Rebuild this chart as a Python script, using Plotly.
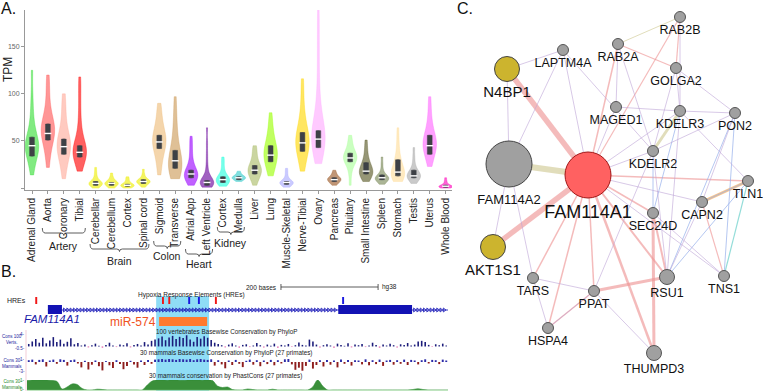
import numpy as np
import plotly.graph_objects as go

W, H = 763, 391
FONT = "Liberation Sans, Arial, Helvetica, sans-serif"


def px(x):
    return x / W


def py(y):
    return 1 - y / H


# ---------------- Panel A data (GTEx TPM) ----------------
tissues = ["Adrenal Gland", "Aorta", "Coronary", "Tibial", "Cerebellar", "Cerebellum",
           "Cortex", "Spinal cord", "Sigmoid", "Transverse", "Atrial App", "Left Ventricle",
           "Cortex", "Medulla", "Liver", "Lung", "Muscle-Skeletal", "Nerve-Tibial", "Ovary",
           "Pancreas", "Pituitary", "Small Intestine", "Spleen", "Stomach", "Testis",
           "Uterus", "Whole Blood"]
tissue_colors = ["#33DD33", "#FF5555", "#FFAA99", "#FF0000", "#EEEE00", "#EEEE00",
                 "#EEEE00", "#EEEE00", "#EEBB77", "#CC9955", "#9900FF", "#660099",
                 "#22FFDD", "#33CCCC", "#AABB66", "#99FF00", "#AAAAFF", "#FFD700", "#FFAAFF",
                 "#995522", "#AAFF99", "#555522", "#778855", "#FFDD99", "#AAAAAA",
                 "#FF66FF", "#FF00BB"]
box_q1 = [34, 51, 36, 33, 3, 3, 2, 5, 42, 21, 11, 3, 6, 9, 15, 28, 4, 39, 43, 7, 28, 15, 9, 13, 11, 36, 1]
box_median = [45, 58, 44, 38, 5, 5, 3, 7, 49, 29, 15, 6, 9, 11, 19, 35, 6, 48, 52, 9, 32, 18, 11, 17, 13, 45, 2]
box_q3 = [54, 68, 52, 45, 7, 6, 4, 9, 56, 40, 19, 8, 12, 12, 24, 45, 7, 59, 61, 11, 37, 27, 14, 30, 19, 56, 3]

adrenal_gland = [14, 22, 28, 32, 35, 38, 40, 42, 44, 45, 46, 48, 50, 53, 56, 60, 66, 74, 85, 100, 125]
artery_aorta = [22, 32, 40, 46, 50, 53, 56, 58, 60, 62, 64, 66, 68, 71, 75, 80, 88, 98, 110, 120]
artery_coronary = [10, 20, 27, 32, 36, 39, 42, 44, 46, 48, 50, 53, 57, 62, 70, 80, 90, 100]
artery_tibial = [18, 24, 29, 32, 34, 36, 37, 38, 39, 40, 42, 44, 47, 51, 56, 64, 75, 90, 105, 118]
brain_cerebellar = [0, 1, 2, 3, 4, 4, 5, 5, 6, 6, 7, 8, 10, 13, 17, 22]
brain_cerebellum = [0, 1, 2, 3, 4, 4, 5, 5, 6, 6, 7, 8, 10, 12, 16]
brain_cortex = [0, 1, 1, 2, 2, 3, 3, 3, 4, 4, 5, 6, 8, 10, 12]
brain_spinal = [1, 3, 4, 5, 6, 6, 7, 7, 8, 8, 9, 10, 12, 15, 20]
colon_sigmoid = [14, 22, 30, 36, 40, 43, 46, 48, 50, 52, 54, 56, 59, 63, 68, 75, 82, 90]
colon_transverse = [10, 13, 16, 18, 20, 22, 24, 26, 28, 30, 33, 36, 40, 45, 52, 60, 70, 82, 97]
heart_atrial = [3, 6, 8, 10, 11, 12, 13, 14, 15, 16, 17, 18, 20, 23, 27, 33, 40, 48, 55]
heart_ventricle = [1, 2, 3, 4, 4, 5, 5, 6, 6, 7, 7, 8, 9, 11, 14, 19, 26, 36, 48, 64]
kidney_cortex = [2, 3, 5, 6, 7, 8, 9, 9, 10, 11, 12, 14, 17, 22, 28, 33]
kidney_medulla = [7, 8, 9, 10, 10, 11, 11, 12, 12, 13, 14, 16, 18]
liver = [3, 8, 11, 13, 15, 16, 18, 19, 20, 21, 23, 24, 27, 31, 36, 41, 45]
lung = [13, 18, 22, 26, 29, 32, 34, 35, 37, 39, 41, 44, 47, 51, 56, 62, 70, 80]
muscle = [1, 2, 3, 4, 5, 5, 6, 6, 7, 7, 8, 10, 13, 17, 21]
nerve_tibial = [18, 26, 32, 37, 41, 44, 46, 48, 50, 53, 56, 59, 63, 68, 75, 85, 100, 116]
ovary = [26, 33, 38, 42, 45, 48, 50, 52, 54, 56, 58, 61, 65, 70, 76, 84, 97, 115, 140, 165, 191]
pancreas = [3, 5, 6, 7, 8, 9, 9, 10, 10, 11, 12, 14, 16, 19]
pituitary = [3, 15, 22, 26, 28, 30, 31, 32, 33, 35, 36, 38, 41, 45, 50, 56]
small_intestine = [7, 10, 12, 14, 15, 16, 17, 18, 19, 21, 23, 25, 27, 31, 36, 43, 51]
spleen = [4, 6, 7, 8, 9, 10, 10, 11, 11, 12, 13, 14, 16, 20, 26, 33]
stomach = [7, 9, 11, 12, 13, 14, 15, 16, 17, 19, 21, 24, 27, 30, 35, 42, 52, 64]
testis = [5, 7, 9, 10, 11, 12, 13, 13, 14, 15, 16, 18, 19, 22, 27, 34, 43]
uterus = [23, 30, 34, 38, 41, 43, 45, 47, 49, 51, 53, 56, 60, 66, 73, 84, 97]
whole_blood = [0, 0, 1, 1, 1, 2, 2, 2, 3, 3, 4, 6, 8, 11]

tpm_samples = [adrenal_gland, artery_aorta, artery_coronary, artery_tibial, brain_cerebellar,
               brain_cerebellum, brain_cortex, brain_spinal, colon_sigmoid, colon_transverse,
               heart_atrial, heart_ventricle, kidney_cortex, kidney_medulla, liver, lung, muscle,
               nerve_tibial, ovary, pancreas, pituitary, small_intestine, spleen, stomach, testis,
               uterus, whole_blood]

group_names = ["Artery", "Brain", "Colon", "Heart", "Kidney"]
group_first = [1, 4, 8, 10, 12]
group_last = [3, 7, 9, 11, 13]

# ---------------- Panel B data (genome browser, bases relative) ----------------
gene_start, gene_end = 43, 867
exon_starts = [43, 641]
exon_ends = [72, 793]
hre_pos = [19, 280, 293, 334, 354, 389, 651]
hre_kind = ["red", "red", "red", "blue", "blue", "red", "blue"]
mir_start, mir_end = 272, 371
highlight_start, highlight_end = 266, 375
scale_start, scale_end = 523, 723

phylop100 = [0.8, 1.6, 2.4, 1.2, 2.8, 1.0, 1.9, 3.0, 1.4, 2.2, 0.9, 1.5, 2.6, 0.7, 1.1,
             0.3, 0.6, -0.3, 0.4, 0.9, 0.2, -0.4, 0.5, 1.2, 0.3, -0.2, 0.6, 0.4, 1.0, -0.3,
             0.5, 0.8, 0.3, 1.4, 0.6, 1.8, 2.2,
             2.6, 3.2, 2.0, 2.9, 3.4, 2.4, 3.1, 2.7, 3.6, 2.2, 1.5, 3.0, 2.5, 3.3, 2.8, 2.1,
             1.2, 0.8, 0.4, -0.3, 0.6, 1.0, 0.3, -0.4, 0.5, 0.7, -0.2, 0.3, 1.1, 0.4, -0.3,
             0.6, 0.2, 0.9, -0.4, 0.5, 0.3, 0.8, -0.2, 0.4, 1.3, 0.5, 0.3, 2.2, 1.6, 0.6,
             -0.3, 0.4, 0.7, 0.3, -0.4, 0.9, 0.5, 0.2, 1.0, -0.3, 0.6, 0.4, 0.8, -0.2, 0.3,
             1.2, 0.5, -0.4, 0.6, 0.3, 0.9, 0.4, -0.3, 0.7, 0.5, 1.1, 0.3, 0.6, 1.6, 1.8,
             1.4, 0.5, -0.2, 0.7, 0.4, 0.9, 0.3]
phylop30 = [0.6, 0.8, -0.8, 0.7, 0.9, -1.5, 0.5, 0.8, -0.6, 0.9, 0.7, -1.2, 0.6, 0.8, -0.5,
            -1.8, 0.4, -2.5, -0.9, 0.5, -1.4, -2.8, 0.3, -1.1, -2.0, 0.6, -0.7, -2.4, -1.3,
            0.4, -0.8, -1.9, 0.5, -1.0, 0.7, -0.6, 0.8,
            0.9, 1.0, 0.8, 1.0, 0.9, 0.7, 1.0, 0.9, 0.8, 1.0, 0.6, 0.9, 1.0, 0.8, 0.7, 0.9,
            -1.2, 0.6, -0.8, -2.1, 0.5, -1.0, 0.7, -0.6, -1.7, 0.4, 0.8, -0.9, 0.6, -1.4,
            0.5, -0.7, 0.7, -1.1, 0.6, -0.5, 0.9, 1.0, -0.8, -2.6, -1.9, -2.9, -1.3, 0.8,
            -2.2, -1.0, 0.6, -1.5, 0.7, -0.9, 0.5, -1.8, 0.8, -0.6, 0.7, -1.2, 0.6, 0.5,
            -0.8, 0.9, -1.1, 0.6, -0.7, 0.8, -1.3, 0.5, 0.7, -0.9, 0.6, -0.6, 0.8, -1.0,
            0.7, 0.5, -0.8, 0.6, 0.9, -0.5, 0.7, 0.6, -0.7, 0.8, 0.5]
phastcons30 = [0.95, 1.0, 1.0, 1.0, 1.0, 0.95, 0.85, 0.1, 0.3, 0.6, 0.55, 0.15, 0, 0, 0.08,
               0.05, 0, 0, 0, 0, 0, 0, 0, 0, 0.5, 0.9, 1.0, 1.0, 0.98, 1.0, 1.0, 0.97, 1.0,
               1.0, 1.0, 0.98, 1.0, 0.95, 0.4, 0.25, 0.3, 0.05, 0, 0, 0.1, 0.05, 0, 0, 0,
               0.08, 0, 0, 0, 0, 0, 0, 0, 0.3, 1.0, 0.4, 0, 0, 0, 0, 0, 0, 0, 0, 0, 0, 0,
               0, 0, 0, 0, 0, 0, 0.05, 0.12, 0.05, 0, 0, 0, 0, 0]

# ---------------- Panel C data (network) ----------------
node_names = ["FAM114A1", "FAM114A2", "N4BP1", "AKT1S1", "LAPTM4A", "RAB2A", "RAB2B", "GOLGA2",
              "MAGED1", "KDELR3", "PON2", "KDELR2", "TLN1", "CAPN2", "SEC24D", "TARS", "PPAT",
              "RSU1", "TNS1", "HSPA4", "THUMPD3"]
node_x = [588, 509, 507, 493, 563, 618, 680, 676, 616, 680, 735, 653, 748, 702, 653, 533, 594,
          667, 724, 548, 654]
node_y = [175, 164, 69, 247, 50, 44, 17, 68, 107, 111, 113, 151, 181, 202, 213, 278, 291,
          277, 276, 328, 353]
node_size = [46, 46, 25, 25, 11, 11, 11, 11, 11, 11, 11, 11, 11, 11, 11, 11, 11, 15, 11, 11, 15]
node_kind = ["query", "big", "yellow", "yellow"] + ["gene"] * 17
node_font = [18, 13, 15, 15] + [12.5] * 17

edge_a = ["FAM114A1", "FAM114A1", "FAM114A1", "FAM114A1", "FAM114A1", "FAM114A1", "FAM114A1",
          "FAM114A1", "FAM114A1", "FAM114A1", "FAM114A1", "FAM114A1", "SEC24D", "SEC24D",
          "PPAT", "PPAT", "CAPN2", "RAB2A", "RAB2B", "KDELR3", "RAB2A", "CAPN2", "TLN1",
          "TLN1", "PON2", "KDELR3", "KDELR2", "PON2", "TLN1",
          "LAPTM4A", "LAPTM4A", "LAPTM4A", "LAPTM4A", "MAGED1", "KDELR3", "MAGED1", "RAB2A",
          "RAB2A", "GOLGA2", "GOLGA2", "GOLGA2", "RAB2B", "KDELR2", "KDELR2", "KDELR3",
          "KDELR3", "PON2", "TARS", "TARS", "PPAT", "PPAT", "FAM114A2", "FAM114A2", "N4BP1",
          "SEC24D", "CAPN2", "TLN1", "FAM114A1", "FAM114A1", "KDELR2", "HSPA4"]
edge_b = ["N4BP1", "AKT1S1", "FAM114A2", "RAB2A", "RAB2B", "TLN1", "TARS", "HSPA4", "PPAT",
          "THUMPD3", "RSU1", "SEC24D", "THUMPD3", "RSU1", "RSU1", "HSPA4", "TNS1", "GOLGA2",
          "GOLGA2", "KDELR2", "RAB2B", "TLN1", "TNS1", "RSU1", "RSU1", "SEC24D", "SEC24D",
          "TNS1", "CAPN2",
          "FAM114A1", "KDELR2", "N4BP1", "FAM114A2", "KDELR3", "PON2", "FAM114A1", "KDELR2",
          "MAGED1", "KDELR3", "PON2", "KDELR2", "KDELR3", "PON2", "FAM114A1", "FAM114A1",
          "RSU1", "CAPN2", "PPAT", "HSPA4", "THUMPD3", "KDELR2", "TARS", "AKT1S1",
          "FAM114A2", "TNS1", "RSU1", "KDELR3", "CAPN2", "TNS1", "RSU1", "PPAT"]
edge_kind = ["coexp", "coexp", "pathway", "coexp", "coexp", "coexp", "coexp", "coexp", "coexp",
             "coexp", "coexp", "coexp", "coexp", "coexp", "coexp", "coexp", "coexp", "coexp",
             "coexp", "pathway", "pathway", "genetic", "shared", "physical", "physical",
             "physical", "physical", "physical", "physical"] + ["coloc"] * 32
edge_w = [5.5, 5.5, 6, 1.5, 1.2, 1.5, 1.5, 1.5, 1.5, 2.5, 2, 1.5, 3, 2, 3, 1.5, 1.2, 1.2, 1.2,
          3, 1, 3, 1.2, 1, 1, 1, 1, 1, 1] + [1] * 32

edge_colors = {"coexp": "rgba(238,150,150,0.65)", "coloc": "rgba(190,165,215,0.6)",
               "pathway": "rgba(218,212,170,0.8)", "genetic": "rgba(245,185,120,0.85)",
               "physical": "rgba(150,175,235,0.7)", "shared": "rgba(130,215,210,0.85)"}
node_fill = {"query": "#FF6161", "big": "#A0A0A0", "yellow": "#CCB42E", "gene": "#A0A0A0"}
node_line = {"query": "#A01515", "big": "#444444", "yellow": "#444444", "gene": "#555555"}


def rgba(hex_color, a):
    h = hex_color.lstrip("#")
    return "rgba(%d,%d,%d,%.2f)" % (int(h[0:2], 16), int(h[2:4], 16), int(h[4:6], 16), a)


fig = go.Figure()

# ---------------- Panel A traces ----------------
for i, (vals, col) in enumerate(zip(tpm_samples, tissue_colors)):
    fig.add_trace(go.Violin(
        x0=i, y=vals, xaxis="x", yaxis="y", width=0.85, scalemode="width", spanmode="hard",
        points=False, fillcolor=rgba(col, 0.62), line=dict(color=rgba(col, 0.7), width=0.5),
        box_visible=False, meanline_visible=False, hoverinfo="skip", name=tissues[i]))

positions = list(range(len(tissues)))
fig.add_trace(go.Box(
    x=positions, q1=box_q1, median=box_median, q3=box_q3, lowerfence=box_q1, upperfence=box_q3,
    width=0.3, fillcolor="#3E4146", line=dict(color="#3E4146", width=0.5), boxpoints=False,
    xaxis="x", yaxis="y", hoverinfo="skip"))
fig.add_trace(go.Scatter(
    x=positions, y=box_median, mode="markers", xaxis="x", yaxis="y", hoverinfo="skip",
    marker=dict(symbol="line-ew", size=5, line=dict(color="white", width=1.4))))

# ---------------- Panel B traces ----------------
span_bases = gene_end
step1 = span_bases / len(phylop100)
x1 = [step1 * (k + 0.5) for k in range(len(phylop100))]
fig.add_trace(go.Bar(
    x=x1, y=phylop100, width=step1 * 0.45, xaxis="x2", yaxis="y3", hoverinfo="skip",
    marker=dict(color=["#1C1C7A" if v >= 0 else "#E060A8" for v in phylop100], line_width=0)))
step2 = span_bases / len(phylop30)
x2 = [step2 * (k + 0.5) for k in range(len(phylop30))]
fig.add_trace(go.Bar(
    x=x2, y=phylop30, width=step2 * 0.55, xaxis="x2", yaxis="y4", hoverinfo="skip",
    marker=dict(color=["#2B2BA8" if v >= 0 else "#8E1E1E" for v in phylop30], line_width=0)))
step3 = span_bases / (len(phastcons30) - 1)
x3 = [step3 * k for k in range(len(phastcons30))]
fig.add_trace(go.Scatter(
    x=x3, y=phastcons30, mode="lines", fill="tozeroy", line_shape="spline",
    line=dict(color="#2E8B34", width=0.6), fillcolor="#3A8F3A", xaxis="x2", yaxis="y5",
    hoverinfo="skip"))

# chevrons along introns
chev_x = list(np.arange(exon_ends[0] + 5, exon_starts[1] - 3, 6.8)) + \
    list(np.arange(exon_ends[1] + 5, gene_end - 2, 6.8))
fig.add_trace(go.Scatter(
    x=chev_x, y=[310] * len(chev_x), mode="markers", xaxis="x2", yaxis="y6", hoverinfo="skip",
    marker=dict(symbol="triangle-right-open", size=3.5, color="#1C1CB8",
                line=dict(color="#1C1CB8", width=0.8))))

# ---------------- Panel C traces ----------------
idx = {n: k for k, n in enumerate(node_names)}
for a, b, kind, w in zip(edge_a, edge_b, edge_kind, edge_w):
    ia, ib = idx[a], idx[b]
    fig.add_trace(go.Scatter(
        x=[node_x[ia], node_x[ib]], y=[node_y[ia], node_y[ib]], mode="lines",
        line=dict(color=edge_colors[kind], width=w), xaxis="x3", yaxis="y7",
        hoverinfo="skip"))
fig.add_trace(go.Scatter(
    x=node_x, y=node_y, mode="markers+text", text=node_names, textposition="bottom center",
    textfont=dict(size=node_font, color="#111111", family=FONT), cliponaxis=False,
    marker=dict(size=node_size, opacity=1, color=[node_fill[k] for k in node_kind],
                line=dict(color=[node_line[k] for k in node_kind], width=1)),
    xaxis="x3", yaxis="y7", hoverinfo="skip"))

# ---------------- Shapes ----------------
shapes = []
brace_y = [233, 249, 246, 254, 232]
label_y = [246, 261, 256, 264, 243]
annotations = []


def add_text(text, x, y, size, color="#222222", xanchor="center", angle=0):
    annotations.append(dict(text=text, x=px(x), y=py(y), xref="paper", yref="paper",
                            showarrow=False, xanchor=xanchor, yanchor="middle",
                            textangle=angle, borderpad=0,
                            font=dict(size=size, color=color, family=FONT)))


for name, f, l, by, ly in zip(group_names, group_first, group_last, brace_y, label_y):
    x0, x1b = f - 0.35, l + 0.35
    xm = (f + l) / 2
    y0 = py(by)
    hgt = 5 / H
    d = 0.18
    path = ("M {a},{y1} Q {a},{y0} {a2},{y0} L {m1},{y0} Q {m},{y0} {m},{ym} "
            "Q {m},{y0} {m2},{y0} L {b2},{y0} Q {b},{y0} {b},{y1}").format(
        a=x0, a2=x0 + d, b=x1b, b2=x1b - d, m=xm, m1=xm - d, m2=xm + d,
        y0=y0, y1=y0 + hgt, ym=y0 - 2.5 / H)
    shapes.append(dict(type="path", path=path, xref="x", yref="paper",
                       line=dict(color="#333333", width=0.8)))
    annotations.append(dict(text=name, x=xm, y=py(ly), xref="x", yref="paper",
                            showarrow=False, xanchor="center", yanchor="middle",
                            font=dict(size=10.5, color="#222222", family=FONT)))

# panel B shapes
shapes.append(dict(type="rect", xref="x2", yref="paper", x0=highlight_start, x1=highlight_end,
                   y0=py(391), y1=py(296), fillcolor="#8FDDF6", line_width=0, layer="below"))
shapes.append(dict(type="line", xref="paper", yref="paper", x0=px(26), x1=px(26),
                   y0=py(330), y1=py(391), line=dict(color="rgba(230,150,170,0.6)", width=0.8)))
shapes.append(dict(type="line", xref="x2", yref="paper", x0=0, x1=gene_end,
                   y0=py(390.3), y1=py(390.3), line=dict(color="#9BD49B", width=0.8)))
shapes.append(dict(type="line", xref="x2", yref="paper", x0=scale_start, x1=scale_end,
                   y0=py(287), y1=py(287), line=dict(color="#333333", width=0.8)))
for sx in (scale_start, scale_end):
    shapes.append(dict(type="line", xref="x2", yref="paper", x0=sx, x1=sx,
                       y0=py(284), y1=py(290), line=dict(color="#333333", width=0.8)))
shapes.append(dict(type="line", xref="x2", yref="paper", x0=gene_start, x1=gene_end,
                   y0=py(310), y1=py(310), line=dict(color="#1C1CB8", width=0.9)))
for es, ee in zip(exon_starts, exon_ends):
    shapes.append(dict(type="rect", xref="x2", yref="paper", x0=es, x1=ee,
                       y0=py(314), y1=py(305), fillcolor="#1212B4", line_width=0))
for hp, hk in zip(hre_pos, hre_kind):
    shapes.append(dict(type="rect", xref="x2", yref="paper", x0=hp - 2, x1=hp + 2,
                       y0=py(304), y1=py(297),
                       fillcolor="#F01818" if hk == "red" else "#1A1AE0", line_width=0))
shapes.append(dict(type="rect", xref="x2", yref="paper", x0=mir_start, x1=mir_end,
                   y0=py(326), y1=py(317), fillcolor="#FF7A2E", line_width=0))

# ---------------- Annotations ----------------
add_text("A.", 0, 8, 16, "#111111", "left")
add_text("B.", 0, 271, 16, "#111111", "left")
add_text("C.", 456, 9, 16, "#111111", "left")
add_text("TPM", 8, 70, 12, "#222222", "center", -90)

add_text("200 bases", 278, 287, 6.5, "#222222", "right")
add_text("hg38", 381, 287, 6.5, "#222222", "left")
add_text("HREs", 6, 300, 7, "#222222", "left")
add_text("Hypoxia Response Elements (HREs)", 192, 294.5, 6.5, "#222222", "center")
add_text("<i>FAM114A1</i>", 52, 318.5, 11.5, "#1B1BA8", "center")
add_text("miR-574", 157, 322, 12, "#F0521E", "right")
add_text("100 vertebrates Basewise Conservation by PhyloP", 155, 332, 6.3, "#222222", "left")
add_text("30 mammals Basewise Conservation by PhyloP (27 primates)", 139, 353, 6.3,
         "#222222", "left")
add_text("30 mammals conservation by PhastCons (27 primates)", 148, 375.5, 6.3,
         "#222222", "left")
add_text("Cons 100<br>Verts.", 1, 339, 4.5, "#1C1C9C", "left")
add_text("Cons 30<br>Mammals", 1, 363, 4.5, "#1C1C9C", "left")
add_text("Cons 30<br>Mammals", 1, 384, 4.5, "#2A8A2A", "left")
for t, yy, c in [("4-", 334, "#1C1C9C"), ("-0.5-", 348, "#1C1C9C"), ("1-", 359, "#1C1C9C"),
                 ("-3-", 371, "#1C1C9C"), ("1-", 380, "#2A8A2A"), ("0-", 389, "#2A8A2A")]:
    add_text(t, 26, yy, 4.5, c, "right")

hidden = dict(visible=False, showgrid=False, zeroline=False)

fig.update_layout(
    width=W, height=H, margin=dict(l=0, r=0, t=0, b=0),
    paper_bgcolor="white", plot_bgcolor="rgba(0,0,0,0)", showlegend=False,
    violinmode="overlay", boxmode="overlay", barmode="overlay", hovermode=False,
    font=dict(family=FONT, color="#222222"),
    xaxis=dict(domain=[px(25), px(452)], range=[-0.44, 26.4], anchor="y",
               tickmode="array", tickvals=positions, ticktext=tissues, tickangle=-90,
               tickfont=dict(size=10, color="#222222", family=FONT),
               showline=True, linecolor="#999999", linewidth=1, ticks="outside",
               ticklen=3, tickcolor="#999999", showgrid=False, zeroline=False),
    yaxis=dict(domain=[py(190), py(10)], range=[-2, 189], anchor="x",
               tickmode="array", tickvals=[0, 50, 100, 150], ticktext=["", "50", "100", "150"],
               tickfont=dict(size=7, color="#666666", family=FONT),
               showline=True, linecolor="#999999", linewidth=1, ticks="outside",
               ticklen=3, tickcolor="#999999", showgrid=False, zeroline=False),
    xaxis2=dict(domain=[px(27), px(448)], range=[0, gene_end], anchor="y3", **hidden),
    yaxis3=dict(domain=[py(348), py(334)], range=[-0.5, 4], anchor="x2", **hidden),
    yaxis4=dict(domain=[py(371), py(359)], range=[-3, 1], anchor="x2", **hidden),
    yaxis5=dict(domain=[py(390), py(380)], range=[0, 1], anchor="x2", **hidden),
    yaxis6=dict(domain=[0, 1], range=[H, 0], anchor="x2", **hidden),
    xaxis3=dict(domain=[px(455), 1], range=[455, W], anchor="y7", **hidden),
    yaxis7=dict(domain=[0, 1], range=[H, 0], anchor="x3", **hidden),
    shapes=shapes, annotations=annotations,
)

fig.write_html("out.html", config={"displayModeBar": False, "staticPlot": True},
               post_script="document.body.style.margin='0';"
               "document.body.style.overflow='hidden';")
